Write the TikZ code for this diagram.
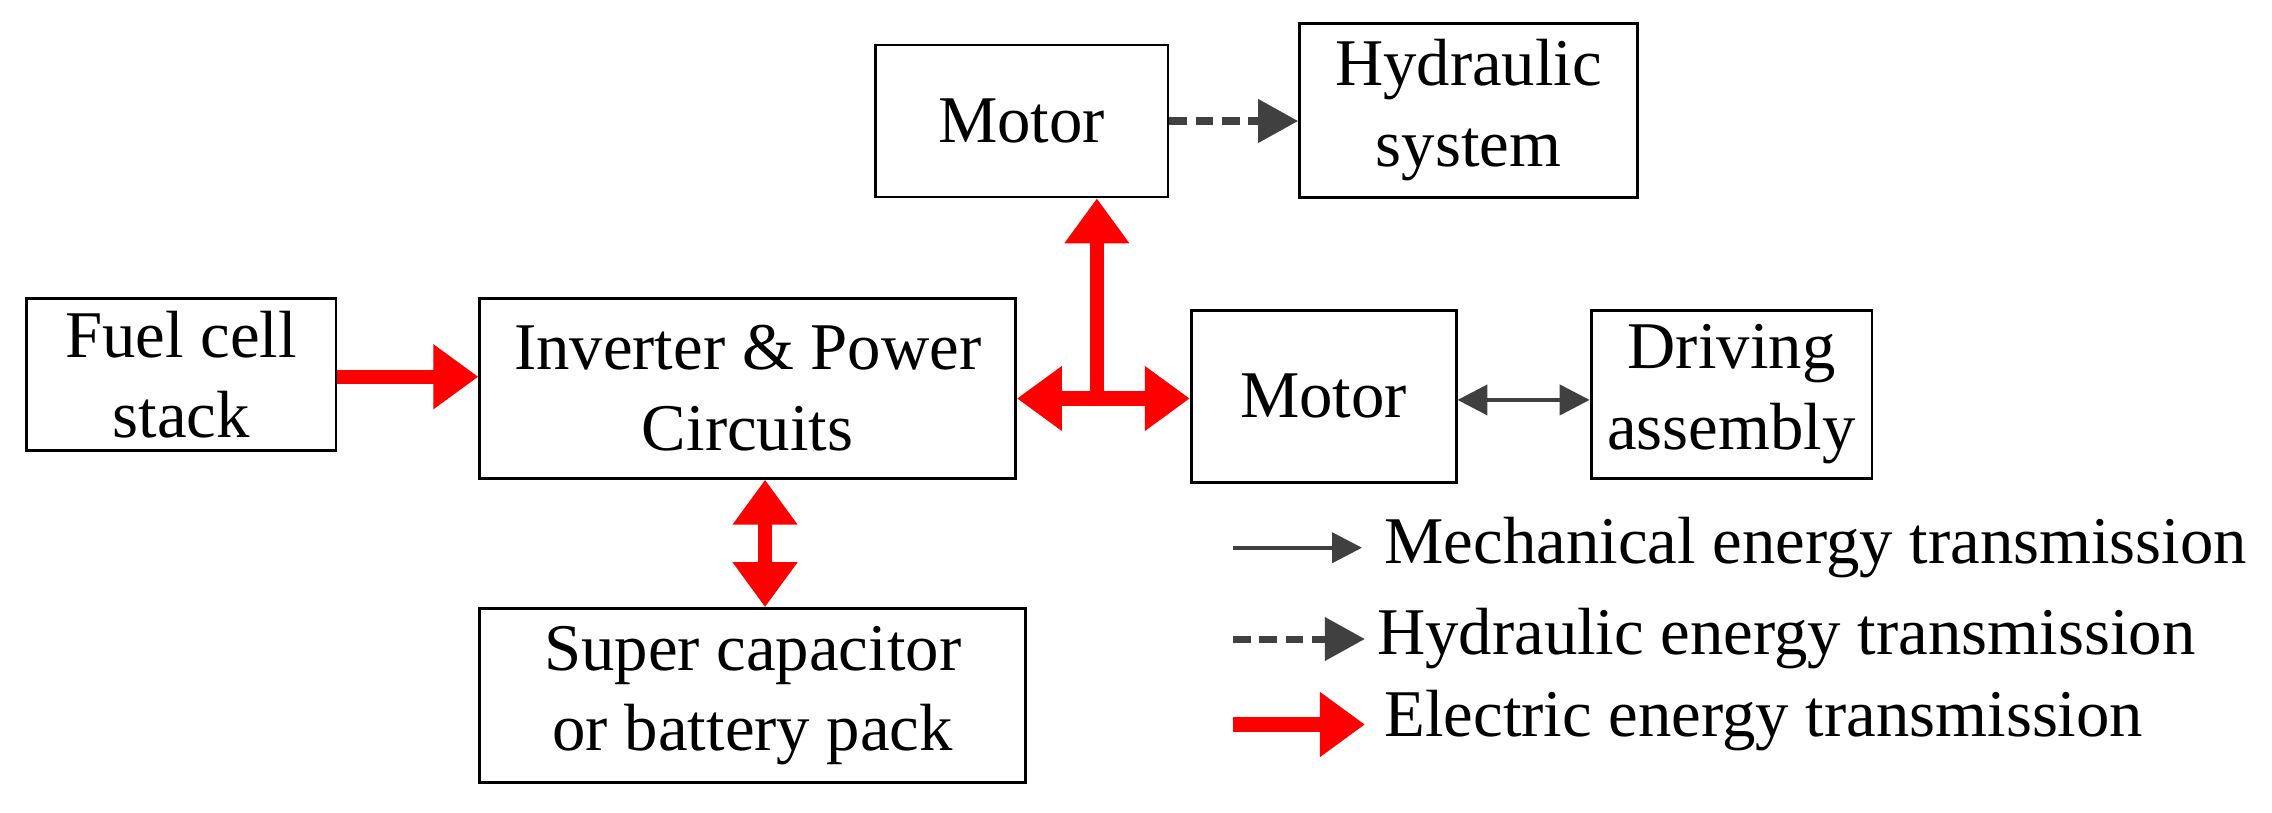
\documentclass[tikz,border=0pt]{standalone}
\usepackage{fontspec}
\setmainfont{Liberation Serif}
\usetikzlibrary{arrows.meta}
\begin{document}
\begin{tikzpicture}[x=0.01449cm,y=-0.01449cm,
  box/.style={draw,line width=0.8pt,align=center,inner sep=0pt,font=\fontsize{19}{23}\selectfont},
  elec/.style={draw=red,line width=4pt,-{Triangle[length=0.45cm,width=0.62cm]}},
  elecb/.style={draw=red,line width=4pt,{Triangle[length=0.45cm,width=0.62cm]}-{Triangle[length=0.45cm,width=0.62cm]}},
  mech/.style={draw=black!75,line width=1.2pt,{Triangle[length=0.3cm,width=0.3cm]}-{Triangle[length=0.3cm,width=0.3cm]}},
  mechs/.style={draw=black!75,line width=1.2pt,-{Triangle[length=0.3cm,width=0.3cm]}},
  hyd/.style={draw=black!75,line width=2pt,dashed,dash pattern=on 5pt off 2.5pt,-{Triangle[length=0.4cm,width=0.42cm]}},
  lbl/.style={anchor=west,inner sep=0pt,font=\fontsize{19}{23}\selectfont}]
\useasboundingbox (0,0) rectangle (1568,561);
\node[box,minimum width=3.10cm,minimum height=1.52cm] (fuel) at (125,258.5) {Fuel cell\\stack};
\node[box,minimum width=5.36cm,minimum height=1.80cm] (inv) at (516,268) {Inverter \& Power\\Circuits};
\node[box,minimum width=5.46cm,minimum height=1.74cm] (sup) at (519.5,480) {Super capacitor\\or battery pack};
\node[box,minimum width=2.93cm,minimum height=1.52cm] (mt) at (705,83.5) {Motor};
\node[box,minimum width=3.38cm,minimum height=1.74cm] (hyd) at (1013.5,76) {Hydraulic\\system};
\node[box,minimum width=2.65cm,minimum height=1.72cm] (mm) at (913.5,273.5) {Motor};
\node[box,minimum width=2.81cm,minimum height=1.68cm] (drv) at (1195,272) {Driving\\assembly};
\coordinate (j) at (757,275);
\path[elec] (fuel.east |- 0,260) -- (inv.west |- 0,260);
\path[elecb] (inv.east |- j) -- (mm.west |- j);
\path[elec] (j) -- (mt.south -| j);
\path[elecb] (inv.south -| 528,0) -- (sup.north -| 528,0);
\path[hyd] (mt.east) -- (hyd.west |- mt.east);
\path[mech] (mm.east |- 0,276) -- (drv.west |- 0,276);
\coordinate (a1) at (851,378); \coordinate (b1) at (940,378);
\coordinate (a2) at (851,441); \coordinate (b2) at (942,441);
\coordinate (a3) at (851,500); \coordinate (b3) at (942,500);
\path[mechs] (a1) -- (b1);
\path[hyd] (a2) -- (b2);
\path[elec] (a3) -- (b3);
\node[lbl] (t1) at (955,378) {Mechanical energy transmission};
\node[lbl] (t2) at (950,441) {Hydraulic energy transmission};
\node[lbl] (t3) at (955,497) {Electric energy transmission};
\end{tikzpicture}
\end{document}
